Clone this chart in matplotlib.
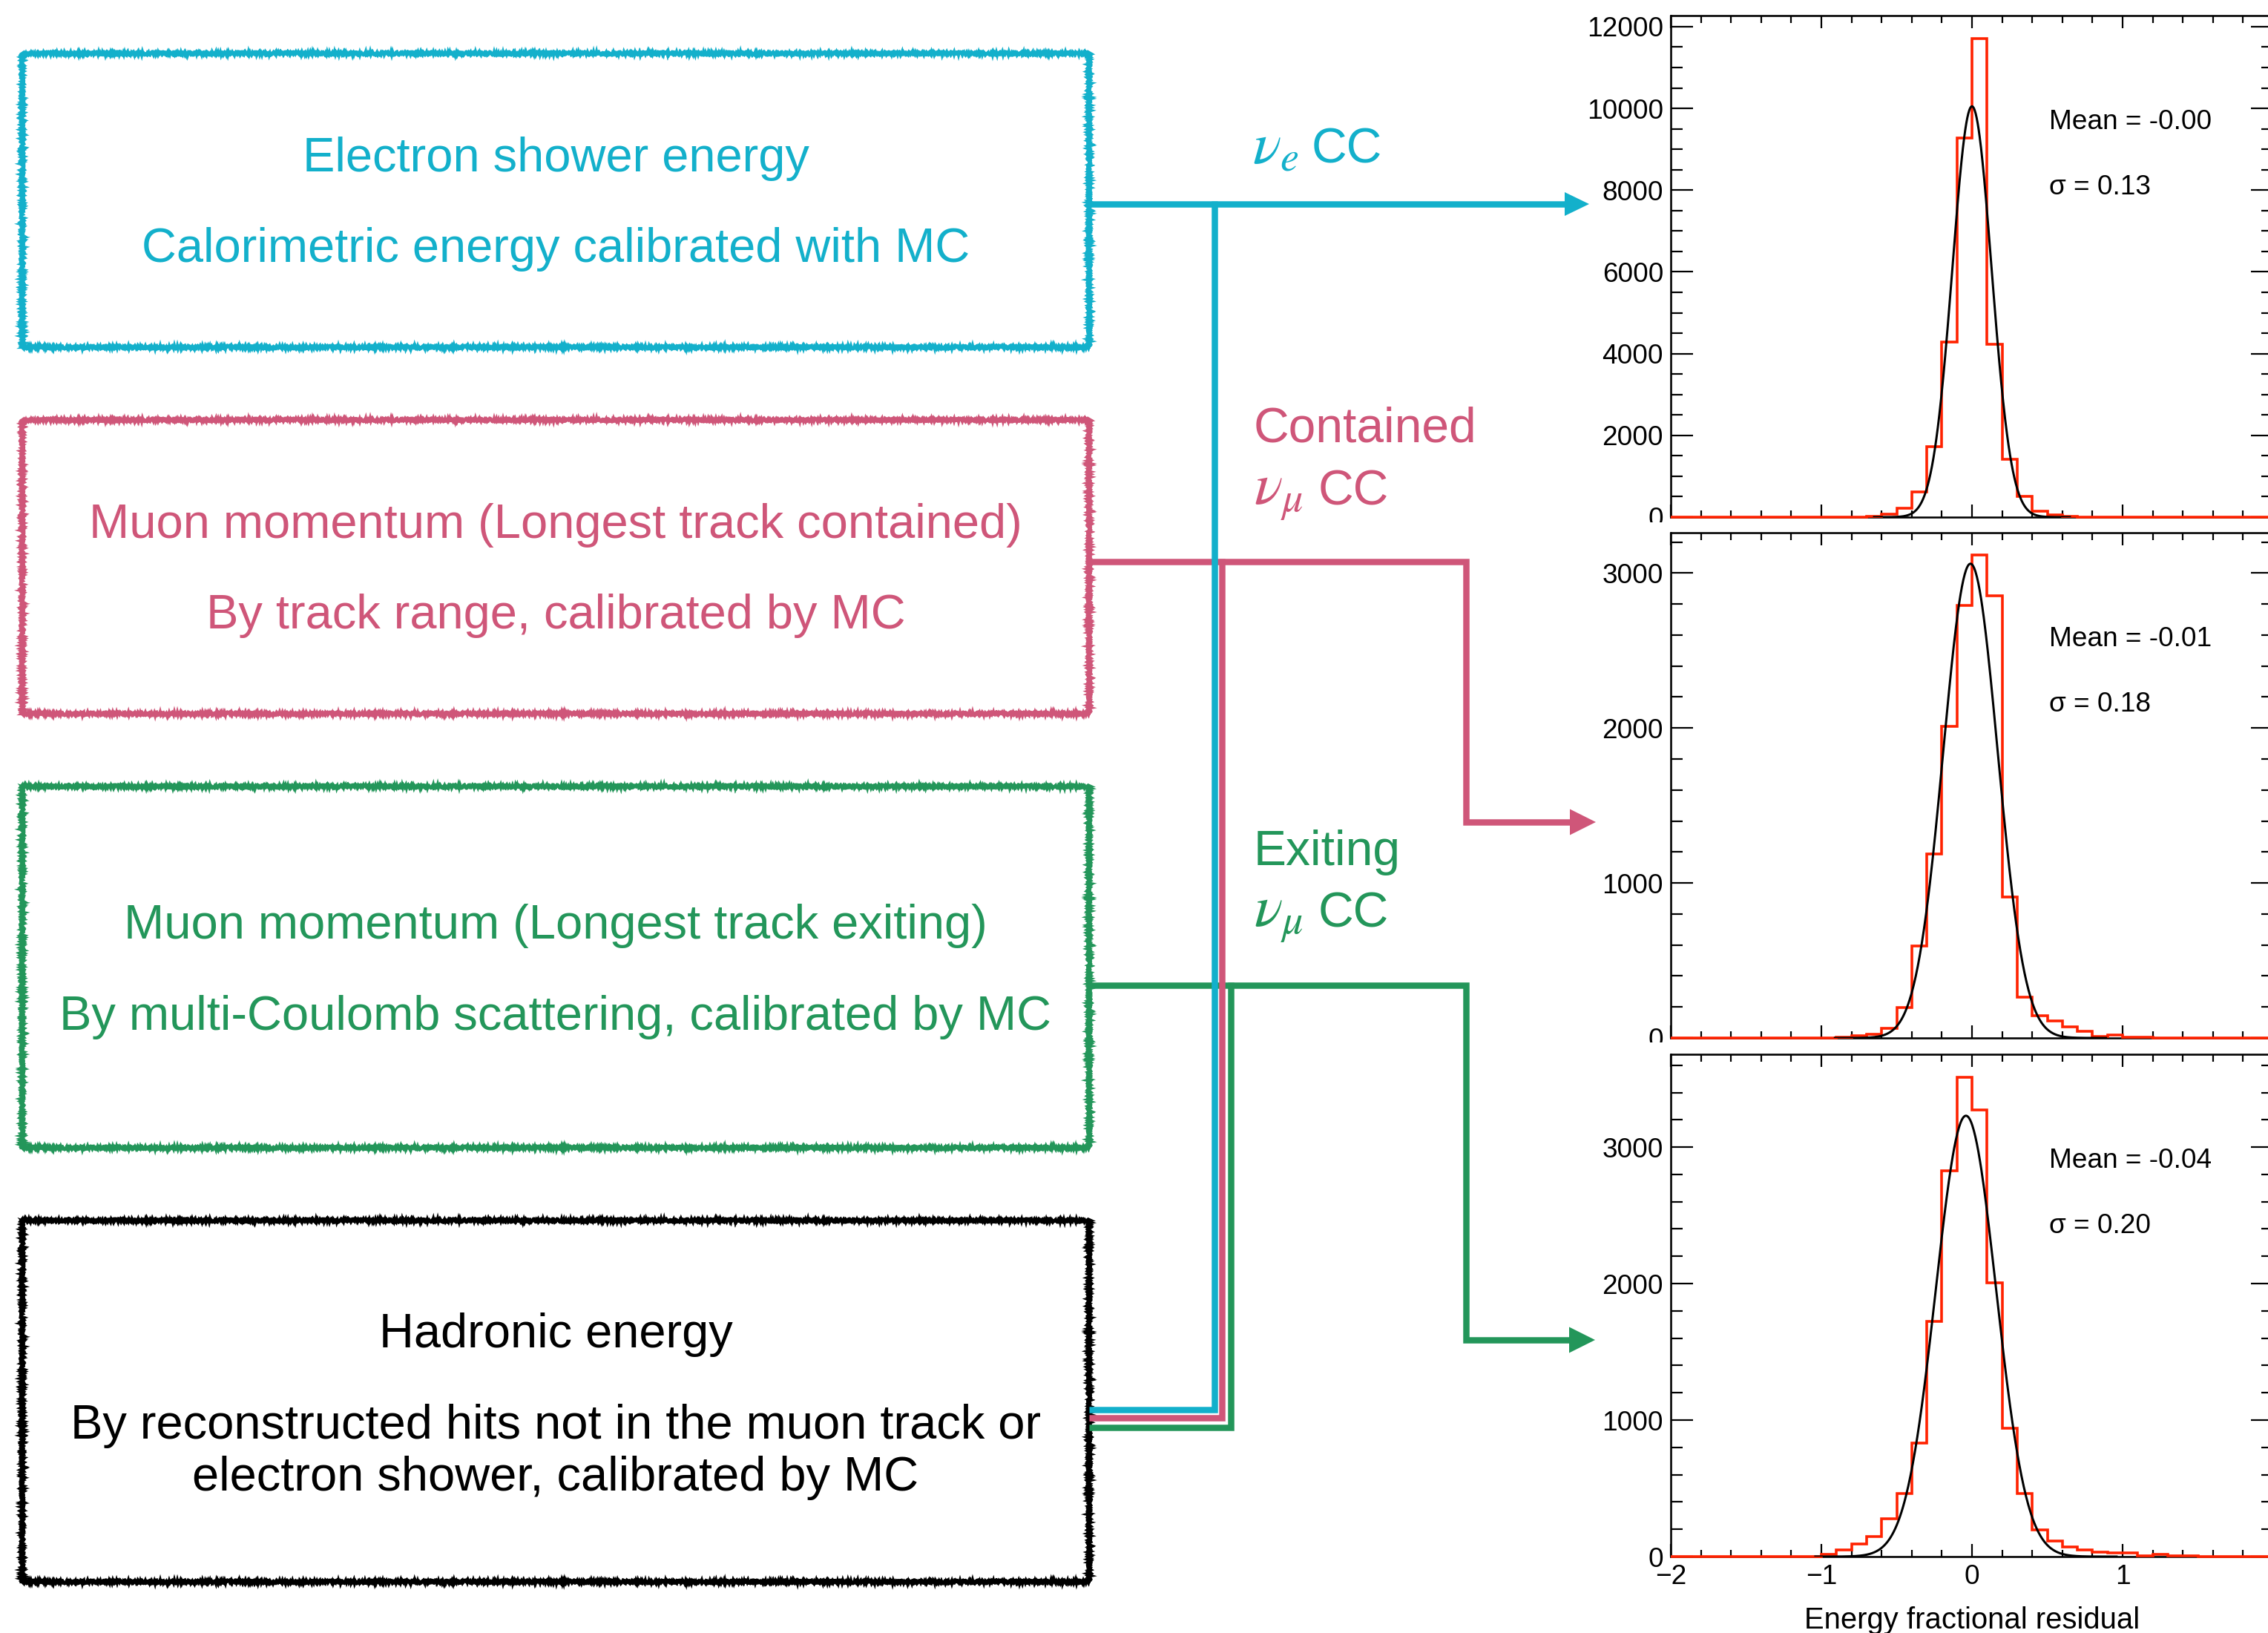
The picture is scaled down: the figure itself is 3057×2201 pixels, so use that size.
import matplotlib

matplotlib.use("Agg")

import matplotlib.pyplot as plt
import numpy as np
from matplotlib.lines import Line2D
from matplotlib.patches import Polygon, Rectangle
from matplotlib.ticker import MultipleLocator

plt.rcParams["font.family"] = ["Liberation Sans", "DejaVu Sans"]
plt.rcParams["mathtext.fontset"] = "stix"

W, H, DPI = 3057, 2201, 100

CYAN = "#13b0cb"
PINK = "#cf5679"
GREEN = "#23965a"
RED = "#ff2200"

# residual histograms, 0.1-wide bins from -2 to 2
bin_edges = np.linspace(-2.0, 2.0, 41)
nue_counts = [0, 0, 0, 0, 0, 0, 0, 0, 0, 0, 0,
              2, 5, 15, 65, 210, 625, 1720, 4290, 9280, 11700, 4230, 1410, 510, 150, 55, 20, 8, 4, 2,
              0, 0, 0, 0, 0, 0, 0, 0, 0, 0]
numu_cont_counts = [0, 0, 0, 0, 0, 0, 0, 0, 0, 0, 1, 3,
                    13, 22, 64, 195, 595, 1185, 2010, 2790, 3115, 2855, 910, 265, 143, 110, 70, 44, 11, 18, 5, 3,
                    2, 1, 0, 0, 0, 0, 0, 0]
numu_exit_counts = [0, 0, 0, 0, 0, 0, 0, 0, 0, 2,
                    14, 47, 92, 147, 275, 463, 830, 1725, 2827, 3510, 3270, 2006, 943, 463, 197, 114, 69, 47, 31,
                    25, 25, 8, 14,
                    5, 3, 2, 1, 0, 0, 0]

fit_mean = [-0.00, -0.01, -0.04]
fit_sigma = [0.13, 0.18, 0.20]
fit_peak = [10050, 3060, 3230]

y_max = [12270, 3260, 3680]
y_major = [2000, 1000, 1000]
y_minor = [500, 200, 200]

x_ticks = [-2, -1, 0, 1, 2]
x_ticklabels = ["\u22122", "\u22121", "0", "1", ""]

box_colors = [CYAN, PINK, GREEN, "black"]
box_lines = [
    ["Electron shower energy", "Calorimetric energy calibrated with MC"],
    ["Muon momentum (Longest track contained)", "By track range, calibrated by MC"],
    ["Muon momentum (Longest track exiting)", "By multi-Coulomb scattering, calibrated by MC"],
    ["Hadronic energy", "By reconstructed hits not in the muon track or",
     "electron shower, calibrated by MC"],
]


def fx(x):
    return x / W


def fy(y):
    return 1 - y / H


def pt(px):
    return px * 72 / DPI


fig = plt.figure(figsize=(W / DPI, H / DPI), dpi=DPI)

# --- flow boxes on the left ---
box_tops = [72, 566, 1060, 1645]
box_bottoms = [468, 962, 1547, 2132]
box_baselines = [[231, 353], [725, 847], [1265, 1388], [1816, 1939, 2009]]
box_left, box_right = 30, 1468
for color, top, bot, lines, bases in zip(box_colors, box_tops, box_bottoms, box_lines, box_baselines):
    for sk in [(2.4, 4.0, 3.0), (1.8, 2.5, 5.0)]:
        r = Rectangle((fx(box_left), fy(bot)), (box_right - box_left) / W, (bot - top) / H,
                      transform=fig.transFigure, fill=False, edgecolor=color, lw=pt(4.2))
        r.set_sketch_params(*sk)
        fig.add_artist(r)
    for txt, yb in zip(lines, bases):
        fig.text(fx((box_left + box_right) / 2), fy(yb), txt, color=color, fontsize=pt(65),
                 ha="center", va="baseline")


# --- connectors ---
def connector(points, color, lw=8.5):
    xs = [fx(p[0]) for p in points]
    ys = [fy(p[1]) for p in points]
    fig.add_artist(Line2D(xs, ys, transform=fig.transFigure, color=color, lw=pt(lw),
                          solid_joinstyle="miter", solid_capstyle="butt"))


def head(x_tip, y, color, length=35, half=17.5):
    fig.add_artist(Polygon([(fx(x_tip), fy(y)), (fx(x_tip - length), fy(y - half)),
                            (fx(x_tip - length), fy(y + half))], closed=True,
                           transform=fig.transFigure, facecolor=color, edgecolor="none"))


connector([(1468, 1328), (1976, 1328), (1976, 1806), (2118, 1806)], GREEN)
connector([(1659, 1324), (1659, 1924), (1468, 1924)], GREEN)
head(2150, 1806, GREEN)

connector([(1468, 757), (1976, 757), (1976, 1108), (2118, 1108)], PINK)
connector([(1647, 753), (1647, 1911), (1468, 1911)], PINK)
head(2151, 1108, PINK)

connector([(1468, 275), (2110, 275)], CYAN)
connector([(1637, 271), (1637, 1900), (1468, 1900)], CYAN)
head(2142, 275, CYAN, length=33, half=16)

# channel labels
label_fs = pt(66)
fig.text(fx(1688), fy(220), r"$\nu_e$", color=CYAN, fontsize=pt(80), ha="left", va="baseline")
fig.text(fx(1768), fy(220), "CC", color=CYAN, fontsize=label_fs, ha="left", va="baseline")
fig.text(fx(1690), fy(596), "Contained", color=PINK, fontsize=label_fs, ha="left", va="baseline")
fig.text(fx(1690), fy(680), r"$\nu_\mu$", color=PINK, fontsize=pt(80), ha="left", va="baseline")
fig.text(fx(1777), fy(680), "CC", color=PINK, fontsize=label_fs, ha="left", va="baseline")
fig.text(fx(1690), fy(1166), "Exiting", color=GREEN, fontsize=label_fs, ha="left", va="baseline")
fig.text(fx(1690), fy(1250), r"$\nu_\mu$", color=GREEN, fontsize=pt(80), ha="left", va="baseline")
fig.text(fx(1777), fy(1250), "CC", color=GREEN, fontsize=label_fs, ha="left", va="baseline")

# --- residual histograms on the right ---
panel_tops = [21, 718, 1421]
panel_bottoms = [697, 1399, 2098]
ax_left, ax_right = 2252, 3064
all_counts = [nue_counts, numu_cont_counts, numu_exit_counts]
tick_fs = pt(37)

for i, (top, bot, counts) in enumerate(zip(panel_tops, panel_bottoms, all_counts)):
    ax = fig.add_axes([fx(ax_left), fy(bot), (ax_right - ax_left) / W, (bot - top) / H])
    ax.stairs(counts, bin_edges, color=RED, lw=pt(3.6), clip_on=False, zorder=3)
    mu, sg, amp = fit_mean[i], fit_sigma[i], fit_peak[i]
    xs = np.linspace(mu - 5 * sg, mu + 5 * sg, 400)
    ax.plot(xs, amp * np.exp(-0.5 * ((xs - mu) / sg) ** 2), color="black", lw=pt(3.0), zorder=4)

    ax.set_xlim(-2, 2)
    ax.set_ylim(0, y_max[i])
    ax.set_xticks(x_ticks, x_ticklabels)
    ax.xaxis.set_minor_locator(MultipleLocator(0.2))
    ax.yaxis.set_major_locator(MultipleLocator(y_major[i]))
    ax.yaxis.set_minor_locator(MultipleLocator(y_minor[i]))
    ax.tick_params(axis="both", which="both", direction="in", top=True, right=True,
                   labelsize=tick_fs, width=pt(2.2), color="black")
    ax.tick_params(axis="y", which="major", length=pt(30), pad=pt(10))
    ax.tick_params(axis="y", which="minor", length=pt(16))
    ax.tick_params(axis="x", which="major", length=pt(17), pad=pt(10))
    ax.tick_params(axis="x", which="minor", length=pt(9.5))
    ax.tick_params(axis="x", labelbottom=(i == 2))
    for s in ax.spines.values():
        s.set_linewidth(pt(2.6))

    ax.annotate(f"Mean = {mu:.2f}", xy=(0.51, 1), xycoords=("data", "axes fraction"),
                xytext=(0, -153), textcoords="offset pixels", ha="left", va="baseline",
                fontsize=tick_fs)
    ax.annotate(f"\u03c3 = {sg:.2f}", xy=(0.51, 1), xycoords=("data", "axes fraction"),
                xytext=(0, -241), textcoords="offset pixels", ha="left", va="baseline",
                fontsize=tick_fs)

# the pads below overlap the lower half of the zero labels
for y0, y1 in [(704, 717), (1405, 1420)]:
    fig.add_artist(Rectangle((fx(2140), fy(y1)), 110 / W, (y1 - y0) / H,
                             transform=fig.transFigure, facecolor="white", edgecolor="none",
                             zorder=5))

fig.text(fx((ax_left + ax_right) / 2), fy(2195), "Energy fractional residual",
         fontsize=pt(40), ha="center", va="baseline")

fig.savefig("out.png", dpi=DPI)
